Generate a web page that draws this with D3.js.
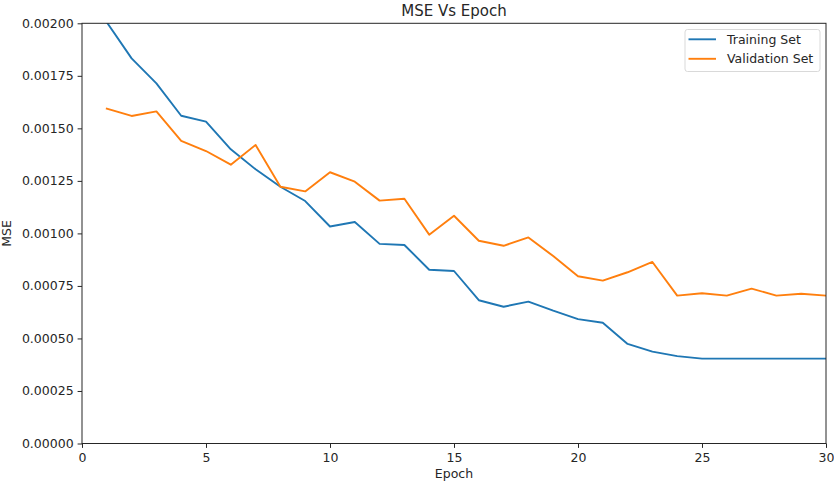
<!DOCTYPE html>
<html><head><meta charset="utf-8">
<script src="https://cdn.jsdelivr.net/npm/d3@7"></script>
<style>body{margin:0;background:#fff}svg{display:block}text{font-family:"DejaVu Sans",sans-serif;fill:#262626}</style>
</head><body><svg id="c" width="834" height="483"></svg>
<script>
const epochs = [1,2,3,4,5,6,7,8,9,10,11,12,13,14,15,16,17,18,19,20,21,22,23,24,25,26,27,28,29,30];
const trainMSE = [0.002005,0.001833,0.001714,0.00156,0.001532,0.0014,0.001305,0.001222,0.001154,0.001033,0.001054,0.00095,0.000945,0.000827,0.000821,0.000682,0.000651,0.000675,0.000632,0.000592,0.000575,0.000474,0.000437,0.000416,0.000404,0.000404,0.000404,0.000404,0.000404,0.000404];
const valMSE = [0.001594,0.001559,0.001581,0.00144,0.001392,0.001327,0.001421,0.001222,0.0012,0.001291,0.001246,0.001156,0.001165,0.000994,0.001084,0.000965,0.000941,0.000981,0.000892,0.000796,0.000775,0.000815,0.000864,0.000704,0.000715,0.000704,0.000737,0.000704,0.000713,0.000704];
const xTicks = [0,5,10,15,20,25,30];
const yTicks = [0,0.00025,0.0005,0.00075,0.001,0.00125,0.0015,0.00175,0.002];
const seriesNames = ["Training Set","Validation Set"];
const colors = ["#1f77b4","#ff7f0e"];

const svg = d3.select("#c");
const L=82, R=826, T=23.3, B=443.5;
const x = d3.scaleLinear().domain([0,30]).range([L,R]);
const y = d3.scaleLinear().domain([0,0.002]).range([B,T]);

svg.append("clipPath").attr("id","clip").append("rect").attr("x",L).attr("y",T).attr("width",R-L).attr("height",B-T);

const line = d3.line().x((d,i)=>x(epochs[i])).y(d=>y(d));
[trainMSE,valMSE].forEach((s,k)=>{
  svg.append("path").datum(s).attr("d",line).attr("fill","none").attr("stroke",colors[k])
    .attr("stroke-width",1.9).attr("stroke-linejoin","round").attr("stroke-linecap","square").attr("clip-path","url(#clip)");
});

const xa = svg.append("g").attr("transform",`translate(0,${B})`)
  .call(d3.axisBottom(x).tickValues(xTicks).tickFormat(d3.format("d")).tickSize(4.4).tickPadding(5.5));
const ya = svg.append("g").attr("transform",`translate(${L},0)`)
  .call(d3.axisLeft(y).tickValues(yTicks).tickFormat(d3.format(".5f")).tickSize(4.4).tickPadding(4));
[xa,ya].forEach(a=>{a.select(".domain").remove();a.selectAll("line").attr("stroke","#262626").attr("stroke-width",1);
  a.selectAll("text").attr("font-size","12.5px").attr("fill","#262626").style("font-family","DejaVu Sans");});

svg.append("rect").attr("x",L).attr("y",T).attr("width",R-L).attr("height",B-T).attr("fill","none").attr("stroke","#262626").attr("stroke-width",1);

svg.append("text").attr("x",(L+R)/2).attr("y",16).attr("text-anchor","middle").attr("font-size","15px").text("MSE Vs Epoch");
svg.append("text").attr("x",(L+R)/2).attr("y",478).attr("text-anchor","middle").attr("font-size","12.5px").text("Epoch");
svg.append("text").attr("transform",`translate(11,${(T+B)/2}) rotate(-90)`).attr("text-anchor","middle").attr("font-size","12.5px").text("MSE");

const lg = svg.append("g");
lg.append("rect").attr("x",685).attr("y",29.5).attr("width",135).attr("height",42).attr("rx",2.5)
  .attr("fill","#fff").attr("fill-opacity",0.8).attr("stroke","#d9d9d9").attr("stroke-width",1);
seriesNames.forEach((n,k)=>{
  const yy = 39.3 + k*19.5;
  lg.append("line").attr("x1",688.5).attr("x2",716).attr("y1",yy).attr("y2",yy).attr("stroke",colors[k]).attr("stroke-width",1.9);
  lg.append("text").attr("x",727).attr("y",yy+4.5).attr("font-size","12.5px").text(n);
});
</script></body></html>
